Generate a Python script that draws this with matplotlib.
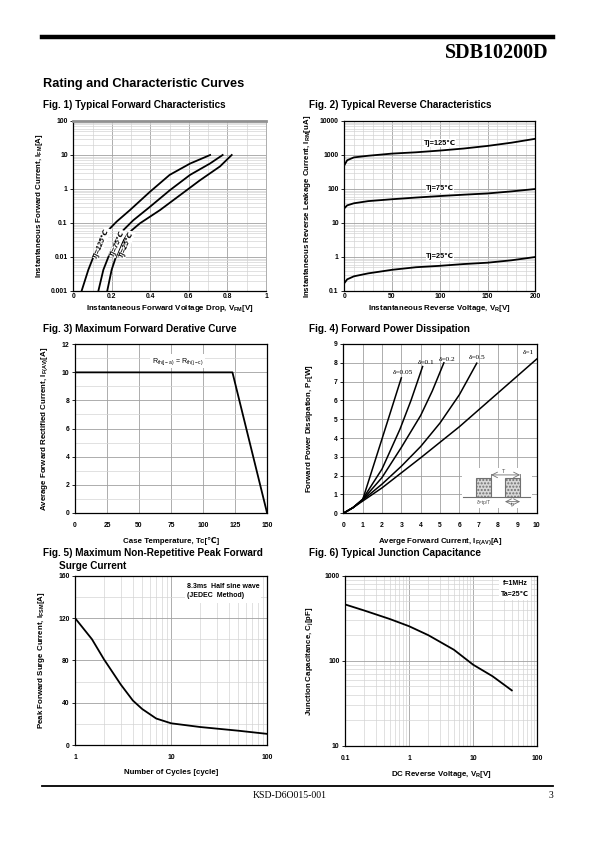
import matplotlib
matplotlib.use('Agg')
import matplotlib.pyplot as plt
from matplotlib.ticker import FixedLocator, NullFormatter, LogLocator, MultipleLocator
from matplotlib.patches import Rectangle

plt.rcParams['font.family'] = ['Liberation Sans', 'DejaVu Sans']
plt.rcParams['mathtext.default'] = 'regular'

# ---------------- data ----------------
# Fig 1 typical forward characteristics (V, A)
fwd_v_125 = [0.043, 0.078, 0.104, 0.138, 0.182, 0.225, 0.294, 0.398, 0.50, 0.606, 0.71]
fwd_i_125 = [0.001, 0.0042, 0.010, 0.028, 0.062, 0.11, 0.24, 0.83, 2.6, 5.6, 10]
fwd_v_75 = [0.13, 0.156, 0.182, 0.216, 0.26, 0.311, 0.398, 0.502, 0.606, 0.709, 0.775]
fwd_i_75 = [0.001, 0.0042, 0.010, 0.028, 0.062, 0.12, 0.30, 0.93, 2.6, 5.6, 10]
fwd_v_25 = [0.176, 0.199, 0.221, 0.251, 0.285, 0.346, 0.45, 0.554, 0.657, 0.761, 0.822]
fwd_i_25 = [0.001, 0.0042, 0.010, 0.025, 0.05, 0.098, 0.24, 0.66, 1.8, 4.6, 10]

# Fig 2 typical reverse characteristics (V, uA)
rev_v = [0, 3, 10, 25, 50, 75, 100, 125, 150, 175, 200]
rev_i_125 = [500, 700, 850, 950, 1100, 1200, 1350, 1550, 1850, 2300, 3000]
rev_i_75 = [27, 33, 38, 44, 50, 56, 62, 68, 74, 85, 100]
rev_i_25 = [0.17, 0.22, 0.27, 0.33, 0.42, 0.50, 0.55, 0.62, 0.68, 0.80, 1.0]

# Fig 3 derating
derate_t = [0, 123, 150]
derate_i = [10, 10, 0]

# Fig 4 forward power dissipation (A, W)
pd_i_005 = [0, 0.5, 1, 2, 3.0]
pd_p_005 = [0, 0.3, 0.72, 3.95, 7.2]
pd_i_01 = [0, 0.5, 1, 2, 2.93, 3.5, 4.1]
pd_p_01 = [0, 0.3, 0.75, 2.35, 4.47, 6.0, 7.8]
pd_i_02 = [0, 0.5, 1, 2, 3, 4, 4.6, 5.2]
pd_p_02 = [0, 0.3, 0.72, 1.9, 3.5, 5.2, 6.5, 8.0]
pd_i_05 = [0, 0.5, 1, 2, 3, 4, 5, 6, 6.9]
pd_p_05 = [0, 0.3, 0.7, 1.55, 2.5, 3.55, 4.8, 6.3, 7.98]
pd_i_1 = [0, 0.5, 1, 2, 4, 6, 8, 10]
pd_p_1 = [0, 0.3, 0.65, 1.35, 2.95, 4.6, 6.4, 8.2]

# Fig 5 surge current
surge_n = [1, 1.5, 2, 3, 4, 5, 7, 10, 20, 50, 100]
surge_i = [120, 100, 81, 57, 42, 34, 25, 20.5, 17, 13.5, 10.5]

# Fig 6 junction capacitance
cap_v = [0.1, 0.2, 0.5, 1, 2, 5, 10, 20, 40]
cap_c = [460, 390, 310, 255, 200, 135, 90, 66, 45]

# ---------------- layout ----------------
W, H = 595, 842
fig = plt.figure(figsize=(W / 100, H / 100), dpi=100)

def ax_at(l, t, r, b):
    return fig.add_axes([l / W, 1 - b / H, (r - l) / W, (b - t) / H])

def ftext(x, y, s, **kw):
    fig.text(x / W, 1 - y / H, s, **kw)

MAJ = '#a0a0a0'
MIN = '#d4d4d4'
LW = 1.3
TICKFS = 4.9
LABFS = 5.7

def ticks(ax, xt, xl, yt, yl, xpad=1.5, ypad=4):
    ax.xaxis.set_major_locator(FixedLocator(xt))
    ax.set_xticklabels(xl, fontsize=TICKFS, fontweight='bold')
    ax.yaxis.set_major_locator(FixedLocator(yt))
    ax.set_yticklabels(yl, fontsize=TICKFS, fontweight='bold')
    ax.xaxis.set_minor_formatter(NullFormatter())
    ax.yaxis.set_minor_formatter(NullFormatter())
    ax.tick_params(axis='x', which='both', length=0, pad=xpad)
    ax.tick_params(axis='y', which='major', length=2, width=0.6, pad=ypad - 2)
    ax.tick_params(axis='y', which='minor', length=0)

def grid(ax):
    ax.grid(True, which='major', color=MAJ, lw=0.6)
    ax.grid(True, which='minor', color=MIN, lw=0.5)
    ax.set_axisbelow(True)
    for s in ax.spines.values():
        s.set_linewidth(0.9)

def labels(ax, xl, yl, xpos, ypos):
    ax.set_xlabel(xl, fontsize=LABFS, fontweight='bold')
    ax.set_ylabel(yl, fontsize=LABFS, fontweight='bold')
    ax.xaxis.set_label_coords(0.5, xpos)
    ax.yaxis.set_label_coords(ypos, 0.5)

def whitebox(ax, x0, y0, x1, y1):
    ax.add_patch(Rectangle((x0, y0), x1 - x0, y1 - y0, transform=ax.transAxes,
                           facecolor='white', edgecolor='none', zorder=1.5))

# header / footer
fig.add_artist(plt.Line2D([42 / W, 553 / W], [1 - 37 / H, 1 - 37 / H], color='black', lw=3.2))
ftext(549, 53, 'SDB10200D', ha='right', va='center', fontsize=14.5, fontweight='bold',
      family='Liberation Serif')
ftext(43, 84, 'Rating and Characteristic Curves', ha='left', va='center', fontsize=9.2,
      fontweight='bold')
fig.add_artist(plt.Line2D([42 / W, 553 / W], [1 - 786 / H, 1 - 786 / H], color='black', lw=1.3))
ftext(290, 796, 'KSD-D6O015-001', ha='center', va='center', fontsize=7, family='Liberation Serif')
ftext(553, 796, '3', ha='right', va='center', fontsize=7, family='Liberation Serif')

TFS = 7.2
ftext(43, 105, 'Fig. 1) Typical Forward Characteristics', fontsize=TFS, fontweight='bold', va='center')
ftext(309, 105, 'Fig. 2) Typical Reverse Characteristics', fontsize=TFS, fontweight='bold', va='center')
ftext(43, 329, 'Fig. 3) Maximum Forward Derative Curve', fontsize=TFS, fontweight='bold', va='center')
ftext(309, 329, 'Fig. 4) Forward Power Dissipation', fontsize=TFS, fontweight='bold', va='center')
ftext(43, 553, 'Fig. 5) Maximum Non-Repetitive Peak Forward', fontsize=TFS, fontweight='bold', va='center')
ftext(59, 566, 'Surge Current', fontsize=TFS, fontweight='bold', va='center')
ftext(309, 553, 'Fig. 6) Typical Junction Capacitance', fontsize=TFS, fontweight='bold', va='center')

# ---------------- Fig 1 ----------------
ax1 = ax_at(73.3, 121, 266, 291)
ax1.set_yscale('log')
ax1.set_xlim(0, 1)
ax1.set_ylim(0.001, 100)
ax1.plot(fwd_v_125, fwd_i_125, color='black', lw=LW)
ax1.plot(fwd_v_75, fwd_i_75, color='black', lw=LW)
ax1.plot(fwd_v_25, fwd_i_25, color='black', lw=LW)
ax1.xaxis.set_minor_locator(MultipleLocator(0.1))
ax1.yaxis.set_minor_locator(LogLocator(base=10, subs=range(2, 10)))
ticks(ax1, [0, 0.2, 0.4, 0.6, 0.8, 1], ['0', '0.2', '0.4', '0.6', '0.8', '1'],
      [0.001, 0.01, 0.1, 1, 10, 100], ['0.001', '0.01', '0.1', '1', '10', '100'])
grid(ax1)
ax1.spines['top'].set_color('#909090')
ax1.spines['top'].set_linewidth(2)
ax1.spines['right'].set_color(MAJ)
ax1.spines['right'].set_linewidth(0.6)
for x, y, s in [(0.147, 0.025, 'Tj=125\u2103'), (0.228, 0.025, 'Tj=75\u2103'), (0.277, 0.023, 'Tj=25\u2103')]:
    ax1.text(x, y, s, rotation=68, fontsize=5.3, fontweight='bold', style='italic', ha='center', va='center',
             bbox=dict(facecolor='white', edgecolor='none', pad=0.3))
labels(ax1, 'Instantaneous Forward Voltage Drop, V$_{FM}$[V]', 'Instantaneous Forward Current, I$_{FM}$[A]',
       -0.07, -0.147)

# ---------------- Fig 2 ----------------
ax2 = ax_at(344.3, 121, 535.3, 291)
ax2.set_yscale('log')
ax2.set_xlim(0, 200)
ax2.set_ylim(0.1, 10000)
ax2.plot(rev_v, rev_i_125, color='black', lw=LW)
ax2.plot(rev_v, rev_i_75, color='black', lw=LW)
ax2.plot(rev_v, rev_i_25, color='black', lw=LW)
ax2.xaxis.set_minor_locator(MultipleLocator(10))
ax2.yaxis.set_minor_locator(LogLocator(base=10, subs=range(2, 10)))
ticks(ax2, [0, 50, 100, 150, 200], ['0', '50', '100', '150', '200'],
      [0.1, 1, 10, 100, 1000, 10000], ['0.1', '1', '10', '100', '1000', '10000'])
grid(ax2)
for y, s in [(2250, 'Tj=125\u2103'), (100, 'Tj=75\u2103'), (1.0, 'Tj=25\u2103')]:
    ax2.text(100, y, s, fontsize=5.3, fontweight='bold', ha='center', va='center',
             bbox=dict(facecolor='white', edgecolor='none', pad=0.1))
labels(ax2, 'Instantaneous Reverse Voltage, V$_{R}$[V]', 'Instantaneous Reverse Leakage Current, I$_{RM}$[uA]',
       -0.07, -0.162)

# ---------------- Fig 3 ----------------
ax3 = ax_at(75, 344.3, 267, 512.7)
ax3.set_xlim(0, 150)
ax3.set_ylim(0, 12)
ax3.plot(derate_t, derate_i, color='black', lw=LW)
ax3.yaxis.set_minor_locator(MultipleLocator(1))
ticks(ax3, [0, 25, 50, 75, 100, 125, 150], ['0', '25', '50', '75', '100', '125', '150'],
      [0, 2, 4, 6, 8, 10, 12], ['0', '2', '4', '6', '8', '10', '12'], xpad=6.5)
grid(ax3)
ax3.text(80, 10.8, 'R$_{th(j-a)}$ = R$_{th(j-c)}$', fontsize=5, ha='center', va='center',
         bbox=dict(facecolor='white', edgecolor='none', pad=1))
labels(ax3, 'Case Temperature, Tc[\u2103]', 'Average Forward Rectified Current, I$_{F(AV)}$[A]',
       -0.143, -0.13)

# ---------------- Fig 4 ----------------
ax4 = ax_at(343.3, 344, 536.7, 513.3)
ax4.set_xlim(0, 10)
ax4.set_ylim(0, 9)
for xs, ys in [(pd_i_005, pd_p_005), (pd_i_01, pd_p_01), (pd_i_02, pd_p_02), (pd_i_05, pd_p_05), (pd_i_1, pd_p_1)]:
    ax4.plot(xs, ys, color='black', lw=1.1)
ticks(ax4, list(range(0, 11)), [str(v) for v in range(0, 11)],
      list(range(0, 10)), [str(v) for v in range(0, 10)], xpad=6.5)
grid(ax4)
for x, y, s in [(3.1, 7.5, '\u03b4=0.05'), (4.3, 8.0, '\u03b4=0.1'), (5.35, 8.15, '\u03b4=0.2'),
                (6.9, 8.3, '\u03b4=0.5'), (9.57, 8.55, '\u03b4=1')]:
    ax4.text(x, y, s, fontsize=5.3, ha='center', va='center', family='Liberation Serif')
# pulse inset
ax4.add_patch(Rectangle((6.15, 0.3), 3.6, 2.1, facecolor='white', edgecolor='none', zorder=3))
ax4.plot([6.21, 9.66], [0.85, 0.85], color='#707070', lw=0.8, zorder=4)
for x0 in (6.86, 8.36):
    ax4.add_patch(Rectangle((x0, 0.85), 0.78, 1.01, facecolor='#d8d8d8', edgecolor='#707070',
                            hatch='.....', lw=0.8, zorder=4))
ax4.annotate('', xy=(7.64, 2.04), xytext=(9.14, 2.04),
             arrowprops=dict(arrowstyle='<->', color='#707070', lw=0.6, shrinkA=0, shrinkB=0), zorder=5)
ax4.plot([7.64, 7.64], [1.86, 2.1], color='#707070', lw=0.6, zorder=5)
ax4.plot([9.14, 9.14], [1.86, 2.1], color='#707070', lw=0.6, zorder=5)
ax4.text(8.3, 2.2, 'T', fontsize=4, ha='center', va='center', color='#505050', zorder=5)
ax4.annotate('', xy=(8.36, 0.62), xytext=(9.14, 0.62),
             arrowprops=dict(arrowstyle='<->', color='#707070', lw=0.6, shrinkA=0, shrinkB=0), zorder=5)
ax4.text(8.75, 0.48, 'tp', fontsize=3.5, ha='center', va='center', color='#505050', zorder=5)
ax4.text(7.24, 0.57, '\u03b4=tp/T', fontsize=3.5, ha='center', va='center', color='#505050', zorder=5)
labels(ax4, 'Averge Forward Current, I$_{F(AV)}$[A]', 'Forward Power Dissipation, P$_{F}$[W]',
       -0.138, -0.146)

# ---------------- Fig 5 ----------------
ax5 = ax_at(75, 575.7, 267.3, 745)
ax5.set_xscale('log')
ax5.set_xlim(1, 100)
ax5.set_ylim(0, 160)
ax5.plot(surge_n, surge_i, color='black', lw=LW)
ax5.xaxis.set_minor_locator(LogLocator(base=10, subs=range(2, 10)))
ax5.yaxis.set_minor_locator(MultipleLocator(20))
ticks(ax5, [1, 10, 100], ['1', '10', '100'], [0, 40, 80, 120, 160], ['0', '40', '80', '120', '160'], xpad=6.5)
grid(ax5)
whitebox(ax5, 0.57, 0.84, 0.965, 0.995)
ax5.text(0.585, 0.935, '8.3ms  Half sine wave', transform=ax5.transAxes, fontsize=5,
         fontweight='bold', ha='left', va='center', zorder=3)
ax5.text(0.585, 0.886, '(JEDEC  Method)', transform=ax5.transAxes, fontsize=5,
         fontweight='bold', ha='left', va='center', zorder=3)
labels(ax5, 'Number of Cycles [cycle]', 'Peak Forward Surge Current, I$_{FSM}$[A]', -0.144, -0.147)

# ---------------- Fig 6 ----------------
ax6 = ax_at(345, 575.7, 537.3, 746)
ax6.set_xscale('log')
ax6.set_yscale('log')
ax6.set_xlim(0.1, 100)
ax6.set_ylim(10, 1000)
ax6.plot(cap_v, cap_c, color='black', lw=LW)
ax6.xaxis.set_minor_locator(LogLocator(base=10, subs=range(2, 10)))
ax6.yaxis.set_minor_locator(LogLocator(base=10, subs=range(2, 10)))
ticks(ax6, [0.1, 1, 10, 100], ['0.1', '1', '10', '100'], [10, 100, 1000], ['10', '100', '1000'], xpad=6.5)
grid(ax6)
whitebox(ax6, 0.80, 0.855, 0.965, 0.995)
ax6.text(0.884, 0.955, 'f=1MHz', transform=ax6.transAxes, fontsize=5,
         fontweight='bold', ha='center', va='center', zorder=3)
ax6.text(0.884, 0.887, 'Ta=25\u2103', transform=ax6.transAxes, fontsize=5,
         fontweight='bold', ha='center', va='center', zorder=3)
labels(ax6, 'DC Reverse Voltage, V$_{R}$[V]', 'Junction Capacitance, C$_{j}$[pF]', -0.137, -0.156)

fig.savefig('out.png', dpi=100, facecolor='white')
